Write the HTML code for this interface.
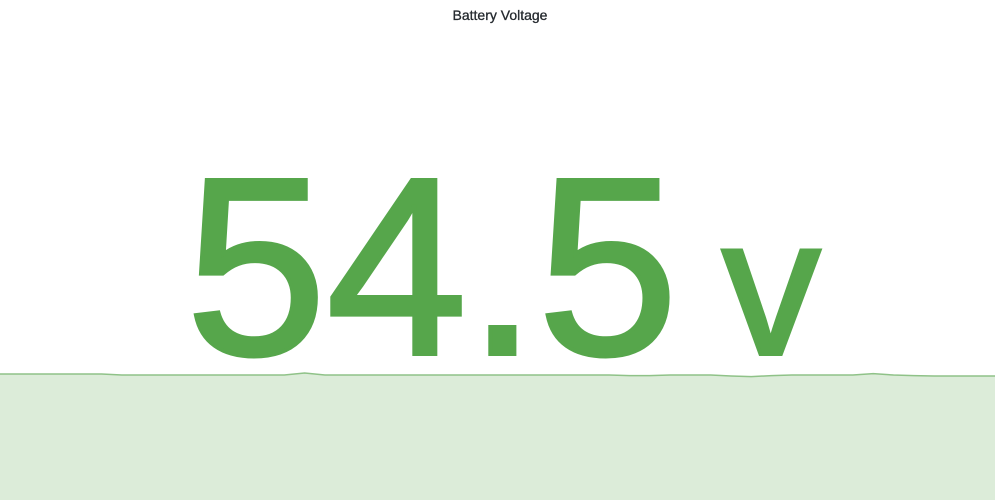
<!DOCTYPE html>
<html><head><meta charset="utf-8"><style>
html,body{margin:0;padding:0;background:#fff;width:1000px;height:500px;overflow:hidden;font-family:"Liberation Sans",sans-serif}
#title{position:absolute;top:7px;left:0;width:1000px;text-align:center;font-size:14px;font-weight:500;color:#24292e;-webkit-text-stroke:0.3px #24292e}
#spark{position:absolute;left:0;top:0}
#val{position:absolute;left:0;width:1000px;top:100px;height:270px}
#val svg{display:block}
</style></head><body>
<div id="title">Battery Voltage</div>
<svg id="spark" width="1000" height="500"></svg>
<div id="val"><svg width="1000" height="270"><text x="503" y="254" text-anchor="middle" fill="#56a64b" stroke="#56a64b" stroke-width="4" stroke-linejoin="miter" font-family="Liberation Sans, sans-serif"><tspan font-size="253">54.5</tspan><tspan font-size="196" dx="44">v</tspan></text></svg></div>
<script>
const voltages=[54.60,54.60,54.60,54.60,54.60,54.60,54.55,54.55,54.55,54.55,54.55,54.55,54.55,54.55,54.55,54.65,54.55,54.55,54.55,54.55,54.55,54.55,54.55,54.55,54.55,54.55,54.55,54.55,54.55,54.55,54.55,54.52,54.52,54.55,54.55,54.55,54.50,54.47,54.52,54.55,54.55,54.55,54.55,54.62,54.55,54.52,54.50,54.50,54.50,54.50];
const svg=document.getElementById('spark');
const xs=i=>i*995/(voltages.length-1);
const ys=v=>374+(54.60-v)*20;
let d='M'+xs(0)+','+ys(voltages[0]);
voltages.forEach((v,i)=>{if(i)d+=' L'+xs(i).toFixed(1)+','+ys(v).toFixed(1);});
const area=document.createElementNS('http://www.w3.org/2000/svg','path');
area.setAttribute('d',d+' L995,500 L0,500 Z');
area.setAttribute('fill','#dcecd9');


svg.appendChild(area);
const line=document.createElementNS('http://www.w3.org/2000/svg','path');
line.setAttribute('d',d);
line.setAttribute('fill','none');
line.setAttribute('stroke','#8fc288');
line.setAttribute('stroke-width','1.5');


svg.appendChild(line);
</script>
</body></html>
